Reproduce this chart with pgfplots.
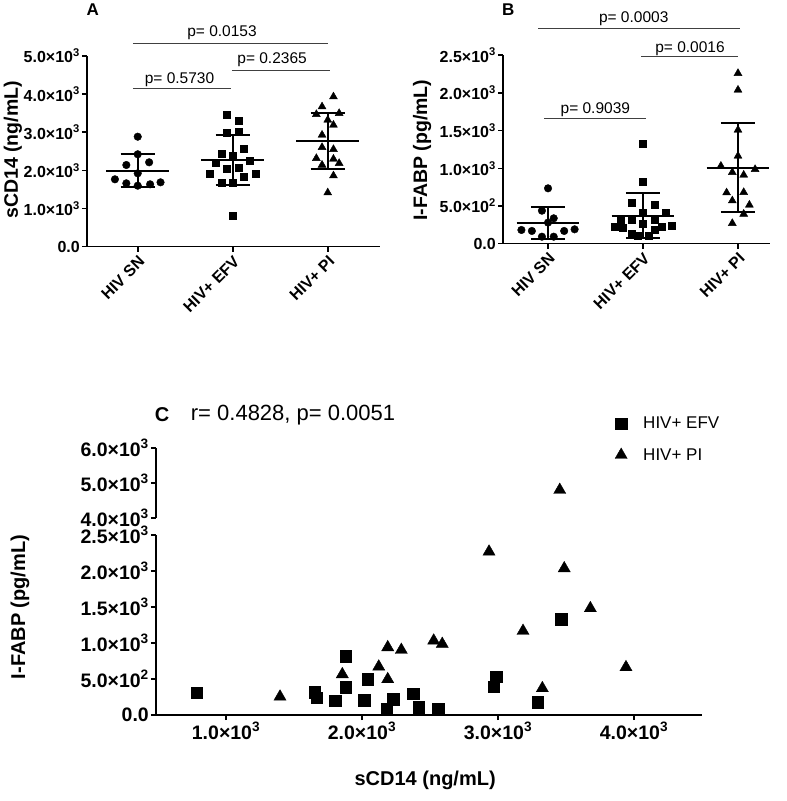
\documentclass[border=0pt]{standalone}
\usepackage{fontspec}
\setmainfont{Liberation Sans}
\usepackage{pgfplots}
\pgfplotsset{compat=1.18}

\newcommand{\sci}[2]{#1×10\textsuperscript{#2}}
\newcommand{\fT}{\fontsize{16}{19}\selectfont}
\newcommand{\fL}{\fontsize{19.5}{23}\selectfont}
\newcommand{\fP}{\fontsize{15.5}{18}\selectfont}
\newcommand{\fC}{\fontsize{19.5}{23}\selectfont}

\pgfplotsset{
  dotax/.style={
    scale only axis, clip=false,
    axis lines=left, axis line style={-, line width=1.6pt},
    tick align=outside, tick pos=left, major tick length=5pt,
    tick style={line width=1.6pt, black},
    unbounded coords=jump,
    xtick={0,1,2}, xticklabels={HIV SN,HIV+ EFV,HIV+ PI},
    xticklabel style={rotate=45, anchor=north east, font=\fT\bfseries, inner sep=2pt},
    yticklabel style={font=\fT\bfseries, inner sep=2pt},
    ylabel style={font=\fL\bfseries},
  },
  ci/.style={only marks, mark=*, mark size=3.8pt, black},
  sq/.style={only marks, mark=square*, mark size=3.5pt, black},
  tr/.style={only marks, mark=triangle*, mark size=4.6pt, black},
  mn/.style={no markers, black, line width=1.8pt},
  br/.style={no markers, black!75, line width=0.9pt},
}

\begin{document}
\begin{tikzpicture}
\useasboundingbox (0,0) rectangle (787pt,801pt);

% ---------------- panel A
\begin{axis}[dotax, at={(87pt,554.3pt)}, anchor=south west,
  width=293pt, height=190.7pt,
  xmin=-0.534, xmax=2.55, ymin=0, ymax=5000,
  ytick={0,1000,2000,3000,4000,5000},
  yticklabels={0.0,\sci{1.0}{3},\sci{2.0}{3},\sci{3.0}{3},\sci{4.0}{3},\sci{5.0}{3}},
  ylabel={sCD14 (ng/mL)},
  ylabel style={at={(axis description cs:-0.253,0.507)}, anchor=center},
]
\addplot[ci] coordinates {(0,2884) (0,2423) (-0.12,2142) (0.12,2213) (0,1924)
  (-0.24,1767) (-0.12,1662) (0,1600) (0.13,1636) (0.24,1688)};
\addplot[sq] coordinates {(0.94,3471) (1.06,3304) (0.94,2999) (1.06,3015) (1.12,2580)
  (0.88,2430) (1,2386) (0.82,2202) (1.18,2255) (0.94,2037) (1.06,2071) (0.76,1906)
  (1.24,1906) (1.12,1835) (0.88,1688) (1,1688) (1,813)};
\addplot[tr] coordinates {(2.06,3933) (1.94,3671) (1.88,3471) (2.12,3497) (2,3322)
  (2.06,3191) (1.94,2929) (1.94,2606) (2.06,2554) (1.88,2318) (2.06,2300)
  (1.94,2142) (2.12,2187) (2.06,1862) (2,1416)};
% mean +- SD
\addplot[mn] coordinates {(-0.33,1993) (0.33,1993) (nan,nan) (0,1557) (0,2423) (nan,nan)
  (-0.18,2423) (0.18,2423) (nan,nan) (-0.18,1557) (0.18,1557)};
\addplot[mn] coordinates {(0.67,2273) (1.33,2273) (nan,nan) (1,1618) (1,2929) (nan,nan)
  (0.82,2929) (1.18,2929) (nan,nan) (0.82,1618) (1.18,1618)};
\addplot[mn] coordinates {(1.67,2771) (2.33,2771) (nan,nan) (2,2037) (2,3513) (nan,nan)
  (1.82,3513) (2.18,3513) (nan,nan) (1.82,2037) (2.18,2037)};
% comparisons
\addplot[br] coordinates {(-0.05,5333) (2.0,5333)};
\addplot[br] coordinates {(0.99,4615) (2.02,4615)};
\addplot[br] coordinates {(-0.05,4143) (0.98,4143)};
\node[font=\fP] at (axis cs:0.887,5603) {p= 0.0153};
\node[font=\fP] at (axis cs:1.414,4895) {p= 0.2365};
\node[font=\fP] at (axis cs:0.44,4371) {p= 0.5730};
\node[font=\fontsize{17}{20}\selectfont\bfseries] at (axis description cs:0.02,1.241) {A};
\end{axis}

% ---------------- panel B
\begin{axis}[dotax, at={(503pt,557.3pt)}, anchor=south west,
  width=267pt, height=188.4pt,
  xmin=-0.474, xmax=2.337, ymin=0, ymax=2500,
  ytick={0,500,1000,1500,2000,2500},
  yticklabels={0.0,\sci{5.0}{2},\sci{1.0}{3},\sci{1.5}{3},\sci{2.0}{3},\sci{2.5}{3}},
  ylabel={I-FABP (pg/mL)},
  ylabel style={at={(axis description cs:-0.303,0.497)}, anchor=center},
]
\addplot[ci] coordinates {(0,735) (-0.064,438) (0.06,337) (-0.28,182) (-0.17,169)
  (-0.064,93) (0.06,93) (0.17,169) (0.28,191) (0,280)};
\addplot[sq] coordinates {(1,1332) (1,823) (0.88,544) (1.12,513) (1,417) (1.24,411)
  (0.76,323) (0.88,323) (1.12,323) (0.7,226) (0.79,217) (1,270) (1.2,226) (1.3,235)
  (0.88,137) (0.94,102) (1.06,102) (1.12,191)};
\addplot[tr] coordinates {(2,2261) (2,2040) (2,1509) (2,1164) (1.82,1031) (2.18,987)
  (1.94,947) (2.06,912) (1.88,677) (2.06,682) (1.94,571) (2.12,514) (2.06,394) (1.94,271)};
\addplot[mn] coordinates {(-0.33,270) (0.33,270) (nan,nan) (0,62) (0,483) (nan,nan)
  (-0.18,483) (0.18,483) (nan,nan) (-0.18,62) (0.18,62)};
\addplot[mn] coordinates {(0.67,372) (1.33,372) (nan,nan) (1,72) (1,669) (nan,nan)
  (0.82,669) (1.18,669) (nan,nan) (0.82,72) (1.18,72)};
\addplot[mn] coordinates {(1.67,1009) (2.33,1009) (nan,nan) (2,417) (2,1598) (nan,nan)
  (1.82,1598) (2.18,1598) (nan,nan) (1.82,417) (2.18,417)};
\addplot[br] coordinates {(-0.105,2858) (2.02,2858)};
\addplot[br] coordinates {(0.98,2481) (2.0,2481)};
\addplot[br] coordinates {(-0.04,1664) (1.03,1664)};
\node[font=\fP] at (axis cs:0.902,2991) {p= 0.0003};
\node[font=\fP] at (axis cs:1.495,2593) {p= 0.0016};
\node[font=\fP] at (axis cs:0.498,1781) {p= 0.9039};
\node[font=\fontsize{17}{20}\selectfont\bfseries] at (axis description cs:0.02,1.24) {B};
\end{axis}

% ---------------- panel C, lower part
\begin{axis}[scale only axis, clip=false, at={(156pt,86pt)}, anchor=south west,
  width=546pt, height=180pt,
  xmin=485, xmax=4500, ymin=0, ymax=2500,
  axis lines=left, axis line style={-, line width=1.6pt},
  tick align=outside, tick pos=left, major tick length=5pt,
  tick style={line width=1.6pt, black},
  xtick={1000,2000,3000,4000},
  xticklabels={\sci{1.0}{3},\sci{2.0}{3},\sci{3.0}{3},\sci{4.0}{3}},
  ytick={0,500,1000,1500,2000,2500},
  yticklabels={0.0,\sci{5.0}{2},\sci{1.0}{3},\sci{1.5}{3},\sci{2.0}{3},\sci{2.5}{3}},
  ticklabel style={font=\fC\bfseries, inner sep=2pt},
  xlabel={sCD14 (ng/mL)},
  xlabel style={font=\fontsize{20}{24}\selectfont\bfseries, at={(axis description cs:0.493,-0.361)}, anchor=center},
  ylabel={I-FABP (pg/mL)},
  ylabel style={font=\fontsize{20}{24}\selectfont\bfseries, at={(axis description cs:-0.249,0.6)}, anchor=center},
]
\addplot[only marks, mark=square*, mark size=5.9pt, black] coordinates {
  (785,310) (1652,320) (1667,240) (1804,199) (1880,820) (1880,385) (2017,208)
  (2042,496) (2181,83) (2228,222) (2375,296) (2417,111) (2559,83) (2968,393)
  (2985,532) (3292,176) (3463,1329)};
\addplot[only marks, mark=triangle*, mark size=7pt, black] coordinates {
  (1397,254) (1855,565) (2123,671) (2189,496) (2189,940) (2289,903) (2527,1032)
  (2590,986) (2934,2268) (3184,1167) (3326,371) (3487,2036) (3679,1482) (3941,663)};
\end{axis}

% ---------------- panel C, upper part
\begin{axis}[scale only axis, clip=false, at={(156pt,283pt)}, anchor=south west,
  width=546pt, height=70pt,
  xmin=485, xmax=4500, ymin=4000, ymax=6000,
  axis x line=none, axis y line=left, axis line style={-, line width=1.6pt},
  tick align=outside, major tick length=5pt,
  tick style={line width=1.6pt, black},
  xtick=\empty,
  ytick={4000,5000,6000},
  yticklabels={\sci{4.0}{3},\sci{5.0}{3},\sci{6.0}{3}},
  yticklabel style={font=\fC\bfseries, inner sep=2pt},
  legend style={at={(axis description cs:0.835,1.5)}, anchor=north west,
    draw=none, fill=none, font=\fontsize{17}{20}\selectfont,
    row sep=14pt, column sep=14pt},
  legend cell align=left,
]
\addlegendimage{only marks, mark=square*, mark size=5.9pt, black}
\addlegendentry{HIV+ EFV}
\addplot[only marks, mark=triangle*, mark size=7pt, black] coordinates {(3454,4800)};
\addlegendentry{HIV+ PI}
\node[font=\fontsize{20}{24}\selectfont\bfseries] at (axis description cs:0.011,1.47) {C};
\node[font=\fontsize{22}{26}\selectfont] at (axis description cs:0.251,1.47) {r= 0.4828, p= 0.0051};
\end{axis}
\end{tikzpicture}
\end{document}
